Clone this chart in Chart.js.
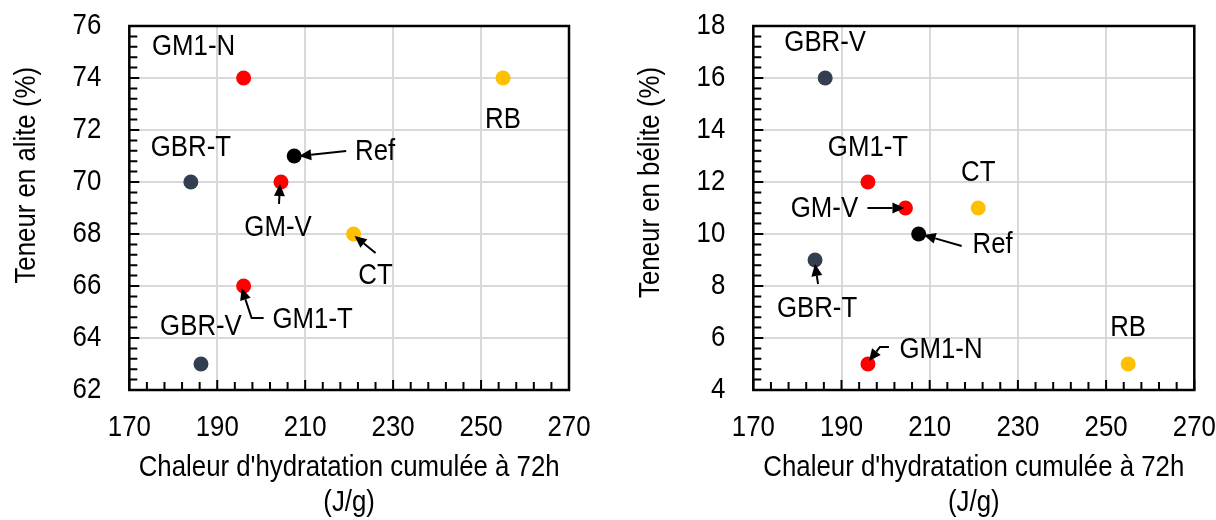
<!DOCTYPE html>
<html>
<head>
<meta charset="utf-8">
<script src="https://cdn.jsdelivr.net/npm/chart.js@4.4.1/dist/chart.umd.min.js"></script>
<style>
  html, body { margin: 0; padding: 0; background: #fff; }
  #wrap { position: relative; width: 1216px; height: 520px; }
  .box { position: absolute; top: 0; width: 608px; height: 520px; }
</style>
</head>
<body>
<div id="wrap">
  <div class="box" style="left:0"><canvas id="aliteChart"></canvas></div>
  <div class="box" style="left:608px"><canvas id="beliteChart"></canvas></div>
</div>
<script>
// data
const samples = ['Ref', 'GM1-N', 'GM1-T', 'GM-V', 'GBR-T', 'GBR-V', 'CT', 'RB'];
const heat72h = [207.5, 196, 196, 204.5, 184, 186.3, 221, 255];   // J/g
const alite   = [71, 74, 66, 70, 70, 63, 68, 74];                  // %
const belite  = [10, 5, 12, 11, 9, 16, 11, 5];                     // %

const xTicks = [170, 190, 210, 230, 250, 270];
const aliteTicks = [62, 64, 66, 68, 70, 72, 74, 76];
const beliteTicks = [4, 6, 8, 10, 12, 14, 16, 18];

// point colours per sample
const pointColors = ['#000000', '#FF0000', '#FF0000', '#FF0000', '#333F50', '#333F50', '#FFC000', '#FFC000'];

const FONT = "'Liberation Sans', Arial, sans-serif";
const SIZE = 30;
const SQUEEZE = 0.86;   // no narrow font installed -> squeeze text horizontally

// label placement (pixel offsets from the point) + arrows
const aliteNotes = [
  { name: 'GM1-N', dx: -50, dy: -31 },
  { name: 'RB', dx: 0, dy: 42 },
  { name: 'GBR-T', dx: 0, dy: -34 },
  { name: 'Ref', dx: 81, dy: -4, arrow: [[52, -5], [5, 0]] },
  { name: 'GM-V', dx: -3, dy: 46, arrow: [[-2, 22], [-1, 2]] },
  { name: 'CT', dx: 22, dy: 42, arrow: [[22, 19], [1, 2]] },
  { name: 'GM1-T', dx: 69, dy: 34, arrow: [[20, 32], [8, 32], [-2, 2]] },
  { name: 'GBR-V', dx: 0, dy: -37 }
];
const beliteNotes = [
  { name: 'GBR-V', dx: 0, dy: -35 },
  { name: 'GM1-T', dx: 0, dy: -34 },
  { name: 'CT', dx: 0, dy: -35 },
  { name: 'GM-V', dx: -81, dy: 1, arrow: [[-38, 0], [-1, 0]] },
  { name: 'Ref', dx: 74, dy: 11, arrow: [[43, 12], [5, 1]] },
  { name: 'GBR-T', dx: 2, dy: 49, arrow: [[3, 24], [0, 4]] },
  { name: 'GM1-N', dx: 73, dy: -14, arrow: [[21, -17], [12, -17], [1, -3]] },
  { name: 'RB', dx: 0, dy: -36 }
];

// condensed text: every fillText on this context gets squeezed
function condense(ctx, factor) {
  const orig = ctx.fillText;
  ctx.fillText = function (text, x, y, maxWidth) {
    const w = this.measureText(text).width * factor;
    return orig.call(this, text, x, y, maxWidth !== undefined ? Math.min(maxWidth, w) : w);
  };
}

// frame box + inside tick marks
const frameTicks = {
  id: 'frameTicks',
  beforeDatasetsDraw(chart, args, opts) {
    const { ctx, chartArea: a, scales: { x, y } } = chart;
    ctx.save();
    ctx.strokeStyle = '#000';
    ctx.lineWidth = 2;
    ctx.beginPath();
    const nx = Math.round((x.max - x.min) / opts.xMinor);
    for (let i = 0; i <= nx; i++) {
      const px = x.getPixelForValue(x.min + i * opts.xMinor);
      const len = i % opts.xPer === 0 ? 10 : 8;
      ctx.moveTo(px, a.bottom);
      ctx.lineTo(px, a.bottom - len);
    }
    const ny = Math.round((y.max - y.min) / opts.yMinor);
    for (let i = 0; i <= ny; i++) {
      const py = y.getPixelForValue(y.min + i * opts.yMinor);
      const len = i % opts.yPer === 0 ? 10 : 8;
      ctx.moveTo(a.left, py);
      ctx.lineTo(a.left + len, py);
    }
    ctx.stroke();
    ctx.lineWidth = 2.5;
    ctx.strokeRect(a.left, a.top, a.right - a.left, a.bottom - a.top);
    ctx.restore();
  }
};

// point labels, arrows and the rotated y title
const pointNotes = {
  id: 'pointNotes',
  afterDatasetsDraw(chart, args, opts) {
    const { ctx } = chart;
    const pts = chart.getDatasetMeta(0).data;
    ctx.save();
    ctx.fillStyle = '#000';
    ctx.strokeStyle = '#000';
    ctx.lineWidth = 2;
    ctx.font = SIZE + 'px ' + FONT;
    ctx.textAlign = 'center';
    ctx.textBaseline = 'middle';
    opts.notes.forEach(n => {
      const p = pts[samples.indexOf(n.name)];
      ctx.fillText(n.name, p.x + n.dx, p.y + n.dy);
      if (!n.arrow) return;
      const path = n.arrow.map(([ax, ay]) => [p.x + ax, p.y + ay]);
      const [tx, ty] = path[path.length - 1];
      const [fx, fy] = path[path.length - 2];
      const ang = Math.atan2(ty - fy, tx - fx);
      const head = 12, half = 5.5;
      const bx = tx - head * Math.cos(ang), by = ty - head * Math.sin(ang);
      ctx.beginPath();
      ctx.moveTo(path[0][0], path[0][1]);
      for (let i = 1; i < path.length - 1; i++) ctx.lineTo(path[i][0], path[i][1]);
      ctx.lineTo(bx, by);
      ctx.stroke();
      ctx.beginPath();
      ctx.moveTo(tx, ty);
      ctx.lineTo(bx + half * Math.sin(ang), by - half * Math.cos(ang));
      ctx.lineTo(bx - half * Math.sin(ang), by + half * Math.cos(ang));
      ctx.closePath();
      ctx.fill();
    });
    // y axis title, top-anchored like the original
    ctx.translate(opts.titleX, opts.titleTop);
    ctx.rotate(-Math.PI / 2);
    ctx.textAlign = 'right';
    ctx.fillText(opts.yTitle, 0, 0);
    ctx.restore();
  }
};

function makeChart(id, yValues, yTicks, yTitle, notes, yWidth, padRight, titleX) {
  const ctx = document.getElementById(id).getContext('2d');
  condense(ctx, SQUEEZE);
  return new Chart(ctx, {
    type: 'scatter',
    data: {
      datasets: [{
        data: heat72h.map((h, i) => ({ x: h, y: yValues[i] })),
        backgroundColor: pointColors,
        borderWidth: 0,
        pointRadius: 7.5,
        pointHoverRadius: 7.5
      }]
    },
    options: {
      responsive: true,
      maintainAspectRatio: false,
      animation: false,
      layout: { padding: { top: 26, right: padRight, left: 0, bottom: 0 } },
      plugins: {
        legend: { display: false },
        tooltip: { enabled: false },
        frameTicks: { xMinor: 4, xPer: 5, yMinor: 0.4, yPer: 5 },
        pointNotes: { notes: notes, yTitle: yTitle, titleX: titleX, titleTop: 67 }
      },
      scales: {
        x: {
          type: 'linear',
          min: xTicks[0],
          max: xTicks[xTicks.length - 1],
          afterBuildTicks: s => { s.ticks = xTicks.map(v => ({ value: v })); },
          afterFit: s => { s.height = 130; s.paddingLeft = 0; s.paddingRight = 0; },
          grid: { color: '#D9D9D9', lineWidth: 2, drawTicks: false },
          border: { display: false },
          ticks: { color: '#000', padding: 20, font: { family: FONT, size: SIZE, lineHeight: 1.2 } },
          title: {
            display: true,
            text: ["Chaleur d'hydratation cumulée à 72h", '(J/g)'],
            color: '#000',
            font: { family: FONT, size: SIZE, lineHeight: 35 / 30 },
            padding: { top: 0, bottom: 0 }
          }
        },
        y: {
          type: 'linear',
          min: yTicks[0],
          max: yTicks[yTicks.length - 1],
          afterBuildTicks: s => { s.ticks = yTicks.map(v => ({ value: v })); },
          afterFit: s => { s.width = yWidth; s.paddingTop = 0; s.paddingBottom = 0; },
          grid: { color: '#D9D9D9', lineWidth: 2, drawTicks: false },
          border: { display: false },
          ticks: { color: '#000', padding: 28, font: { family: FONT, size: SIZE } }
        }
      }
    },
    plugins: [frameTicks, pointNotes]
  });
}

makeChart('aliteChart', alite, aliteTicks, 'Teneur en alite (%)', aliteNotes, 129.3, 39, 27);
makeChart('beliteChart', belite, beliteTicks, 'Teneur en bélite (%)', beliteNotes, 145.3, 21.7, 43);
</script>
</body>
</html>
